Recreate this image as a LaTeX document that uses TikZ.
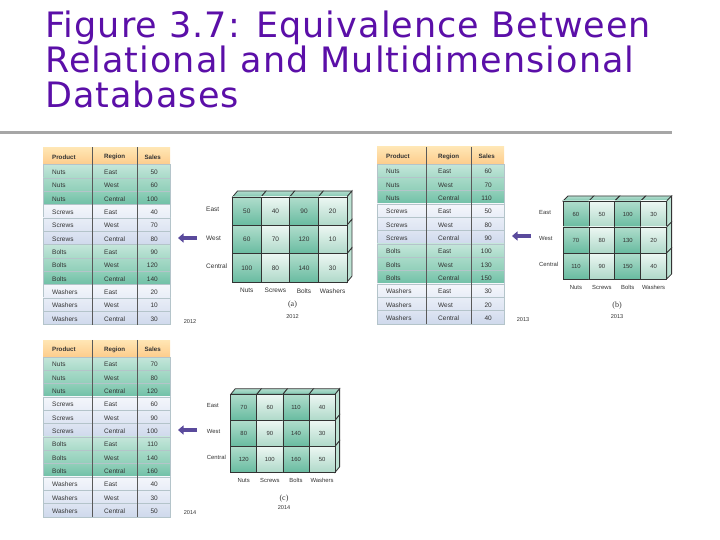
\documentclass[tikz,border=0pt]{standalone}
\usepackage{fontspec}
\setmainfont{Liberation Sans}
\newfontfamily\titlefont[LetterSpace=3]{DejaVu Sans}
\newfontfamily\capfont{Liberation Serif}
\usepackage{xcolor}
\usetikzlibrary{arrows.meta,positioning,calc}
\definecolor{titlepurple}{HTML}{5B0FA8}
\definecolor{rulegray}{HTML}{A6A6A6}
\definecolor{arrowpurple}{HTML}{5A4A9C}
\definecolor{textgray}{HTML}{333333}

\newcommand{\salestable}[4]{%
  \node[hdrrow] (#1hdr) at (#2+63.5,#3+8.5) {};
  \node[hdrtext,anchor=west] (#1hp) at (#2+9,#3+9.5) {Product};
  \node[hdrtext,anchor=west] (#1hr) at (#2+61,#3+9.5) {Region};
  \node[hdrtext,anchor=east] (#1hs) at (#2+118,#3+9.5) {Sales};
  \foreach \prodname [count=\p from 0] in {Nuts,Screws,Bolts,Washers} {
    \foreach \regname [count=\r from 0] in {East,West,Central} {
      \pgfmathtruncatemacro{\k}{3*\p+\r}
      \pgfmathtruncatemacro{\grp}{mod(\p,2)}
      \pgfmathsetmacro{\ypos}{#3+17+13.33*\k+6.67}
      \pgfmathtruncatemacro{\val}{{#4}[\k]}
      \node[tablerow,row\grp\r] (#1row\k) at (#2+63.5,\ypos) {};
      \node[celltext,anchor=west] (#1prod\k) at (#2+9,\ypos+1) {\prodname};
      \node[celltext,anchor=west] (#1reg\k) at (#2+61,\ypos+1) {\regname};
      \node[celltext,anchor=east] (#1val\k) at (#2+115,\ypos+1) {\val};
    }
  }
  \draw[tablecol] ($(#1hdr.north west)+(49.5,0)$) -- ($(#1row11.south west)+(49.5,0)$);
  \draw[tablecol] ($(#1hdr.north west)+(94,0)$) -- ($(#1row11.south west)+(94,0)$);
}

\newcommand{\salescube}[9]{%
  % top and side faces first, cells go over them
  \foreach \c in {0,1,2,3} {
    \pgfmathsetmacro{\xa}{#2+\c*#4}
    \pgfmathsetmacro{\xb}{#2+(\c+1)*#4}
    \path[draw=black!80,thick,top color=cubetop!60,bottom color=cubetop]
      (\xa,#3) -- ++(#6,-#7) -- (\xb+#6,#3-#7) -- (\xb,#3) -- cycle;
  }
  \foreach \q in {0,1,2} {
    \pgfmathsetmacro{\ya}{#3+\q*#5}
    \pgfmathsetmacro{\yb}{#3+(\q+1)*#5}
    \path[draw=black!80,thick,fill=cubeside]
      (#2+4*#4,\ya) -- ++(#6,-#7) -- (#2+4*#4+#6,\yb-#7) -- (#2+4*#4,\yb) -- cycle;
  }
  \foreach \prodname [count=\p from 0] in {Nuts,Screws,Bolts,Washers} {
    \pgfmathsetmacro{\xpos}{#2+(\p+0.5)*#4}
    \pgfmathtruncatemacro{\grp}{mod(\p,2)}
    \foreach \regname [count=\r from 0] in {East,West,Central} {
      \pgfmathtruncatemacro{\k}{3*\p+\r}
      \pgfmathsetmacro{\ypos}{#3+(\r+0.5)*#5}
      \pgfmathtruncatemacro{\val}{{#9}[\k]}
      \node[cubecell,cube\grp,minimum width=#4 pt,minimum height=#5 pt] (#1cell\k) at (\xpos,\ypos) {\val};
    }
    \node[celltext] (#1lab\p) at (\xpos,#3+3*#5+8.5) {\prodname};
  }
  \foreach \regname [count=\r from 0] in {East,West,Central} {
    \pgfmathsetmacro{\ypos}{#3+(\r+0.5)*#5-1.7}
    \node[celltext,anchor=west] (#1side\r) at (#8,\ypos) {\regname};
  }
}

\begin{document}
\begin{tikzpicture}[
  x=1pt, y=-1pt,
  titletext/.style={font=\titlefont\fontsize{35}{35}\selectfont, text=titlepurple, align=left, inner sep=0pt},
  celltext/.style={font=\fontsize{6.5}{7}\selectfont, text=textgray, inner sep=0pt},
  smalltext/.style={celltext/.append style={font=\fontsize{5.9}{7}\selectfont}, cubecell/.append style={font=\fontsize{5.9}{7}\selectfont}},
  hdrtext/.style={font=\bfseries\fontsize{6.2}{7}\selectfont, text=textgray, inner sep=0pt},
  yeartext/.style={font=\fontsize{5.6}{6}\selectfont, text=textgray, inner sep=0pt},
  captext/.style={font=\capfont\fontsize{8}{9}\selectfont, text=black!80, inner sep=0pt},
  hdrrow/.style={minimum width=127pt, minimum height=17pt, inner sep=0pt, top color=rowhdrtop, bottom color=rowhdrbot},
  tablerow/.style={minimum width=127pt, minimum height=13.33pt, inner sep=0pt, draw=rowline, line width=0.4pt},
  tablecol/.style={draw=black!65, line width=0.6pt},
  row00/.style={top color=green0, bottom color=green1},
  row01/.style={top color=green1, bottom color=green2},
  row02/.style={top color=green2, bottom color=green3},
  row10/.style={top color=blue0, bottom color=blue1},
  row11/.style={top color=blue1, bottom color=blue2},
  row12/.style={top color=blue2, bottom color=blue3},
  cubecell/.style={draw=black!80, thick, inner sep=0pt, text=textgray, font=\fontsize{6.5}{7}\selectfont},
  cube0/.style={top color=cubedarktop, bottom color=cubedarkbot},
  cube1/.style={top color=cubelighttop, bottom color=cubelightbot},
  bigarrow/.style={-{Triangle[length=5.5pt,width=9pt]}, arrowpurple, line width=3.5pt}
]
\definecolor{rowhdrtop}{HTML}{FFE6B4}
\definecolor{rowhdrbot}{HTML}{FDCC8C}
\definecolor{rowline}{HTML}{B4C4CA}
\definecolor{green0}{HTML}{C4E6DA}
\definecolor{green1}{HTML}{A8DAC8}
\definecolor{green2}{HTML}{90CFB9}
\definecolor{green3}{HTML}{6FC0A6}
\definecolor{blue0}{HTML}{F4F6FB}
\definecolor{blue1}{HTML}{E8EDF7}
\definecolor{blue2}{HTML}{DDE4F2}
\definecolor{blue3}{HTML}{CFD9EC}
\definecolor{cubetop}{HTML}{7FC6AE}
\definecolor{cubeside}{HTML}{BDE3D4}
\definecolor{cubedarktop}{HTML}{B0DDCC}
\definecolor{cubedarkbot}{HTML}{68BBA0}
\definecolor{cubelighttop}{HTML}{EDF7F3}
\definecolor{cubelightbot}{HTML}{AFD9C9}

\useasboundingbox (0,0) rectangle (720,540);

\node[titletext,anchor=north west] (title) at (45,11)
  {Figure 3.7: Equivalence Between\\Relational and Multidimensional\\Databases};
\coordinate (ruleL) at (0,132.5);
\coordinate (ruleR) at (672,132.5);
\draw[rulegray,line width=3pt] (ruleL) -- (ruleR);

% 2012
\salestable{a}{43}{147.5}{50,60,100,40,70,80,90,120,140,20,10,30}
\salescube{a}{232.5}{197}{28.6}{28.4}{5}{6}{206}{50,60,100,40,70,80,90,120,140,20,10,30}
\coordinate (afrom) at (197,238);
\coordinate (ato) at (178,238);
\draw[bigarrow] (afrom) -- (ato);
\node[yeartext] (ayearl) at (190,322) {2012};
\node[captext] (acap) at (292.5,305) {(a)};
\node[yeartext] (ayearr) at (292.5,316.5) {2012};

% 2013
\salestable{b}{377}{147}{60,70,110,50,80,90,100,130,150,30,20,40}
\begin{scope}[smalltext]
\salescube{b}{563}{201}{25.9}{26}{5}{5}{539}{60,70,110,50,80,90,100,130,150,30,20,40}
\end{scope}
\coordinate (bfrom) at (531,236);
\coordinate (bto) at (512,236);
\draw[bigarrow] (bfrom) -- (bto);
\node[yeartext] (byearl) at (523,320) {2013};
\node[captext] (bcap) at (617,306) {(b)};
\node[yeartext] (byearr) at (617,316.5) {2013};

% 2014
\salestable{c}{43}{340}{70,80,120,60,90,100,110,140,160,40,30,50}
\begin{scope}[smalltext]
\salescube{c}{230.7}{394.3}{26.1}{26}{4.5}{5.5}{206.7}{70,80,120,60,90,100,110,140,160,40,30,50}
\end{scope}
\coordinate (cfrom) at (197,430);
\coordinate (cto) at (178,430);
\draw[bigarrow] (cfrom) -- (cto);
\node[yeartext] (cyearl) at (190,512.5) {2014};
\node[captext] (ccap) at (284,499) {(c)};
\node[yeartext] (cyearr) at (284,508) {2014};
\end{tikzpicture}
\end{document}
